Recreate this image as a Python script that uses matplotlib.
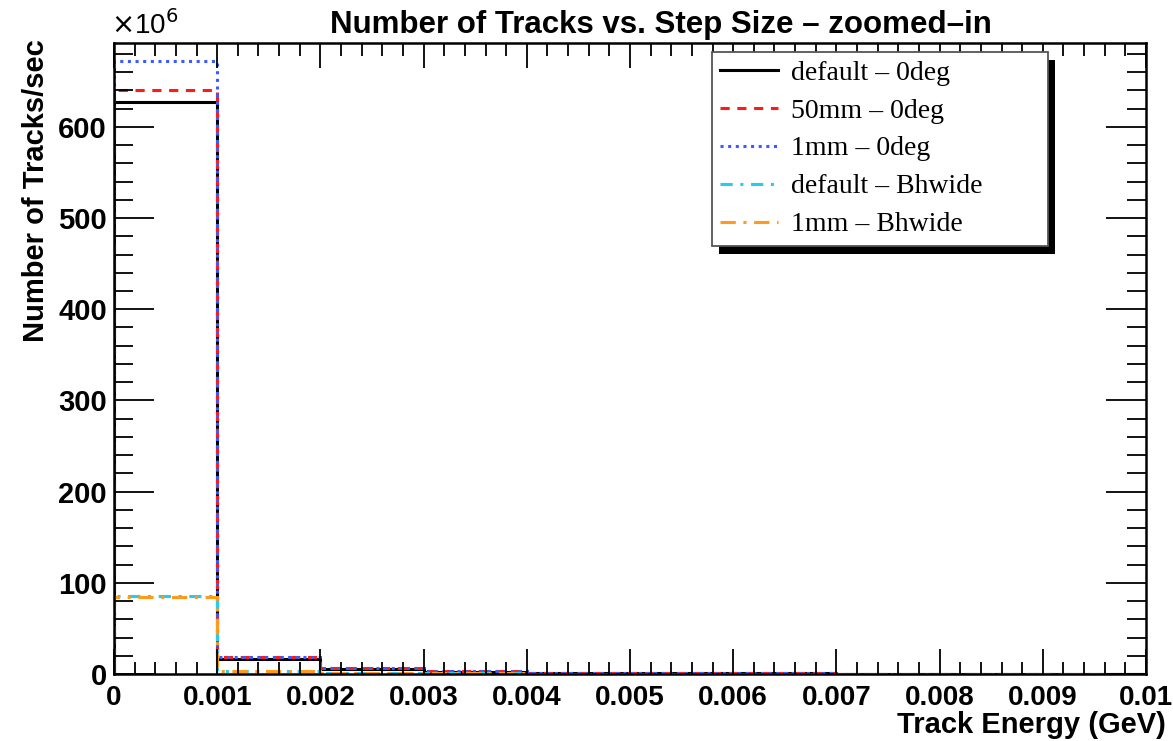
import numpy as np
import matplotlib
matplotlib.use("Agg")
import matplotlib.pyplot as plt
from matplotlib.ticker import MultipleLocator, FixedFormatter, FixedLocator
from matplotlib.patches import Rectangle

# bin edges (GeV)
edges = np.linspace(0.0, 0.01, 11)

# tracks/sec in units of 1e6, one value per bin
default_0deg = [627, 17.0, 6.0, 2.6, 1.5, 1.0, 0.7, 0.5, 0.4, 0.3]
mm50_0deg = [640, 18.3, 6.4, 2.8, 1.6, 1.0, 0.7, 0.5, 0.4, 0.3]
mm1_0deg = [672, 18.6, 6.5, 2.8, 1.6, 1.0, 0.7, 0.5, 0.4, 0.3]
default_bhwide = [85.5, 3.6, 1.3, 0.6, 0.4, 0.3, 0.2, 0.2, 0.1, 0.1]
mm1_bhwide = [84.5, 3.5, 1.2, 0.6, 0.4, 0.3, 0.2, 0.2, 0.1, 0.1]

labels = ['default \u2013 0deg', '50mm \u2013 0deg', '1mm \u2013 0deg',
          'default \u2013 Bhwide', '1mm \u2013 Bhwide']
xtick_vals = [0, 0.001, 0.002, 0.003, 0.004, 0.005, 0.006, 0.007, 0.008, 0.009, 0.01]
xtick_labels = ['0', '0.001', '0.002', '0.003', '0.004', '0.005', '0.006',
                '0.007', '0.008', '0.009', '0.01']

plt.rcParams['font.family'] = ['Liberation Sans', 'DejaVu Sans']

fig = plt.figure(figsize=(11.73, 7.41), dpi=100)
ax = fig.add_axes([0.0972, 0.0904, 0.8798, 0.8516])

lw = 2.2
ax.stairs(default_0deg, edges, color='black', lw=lw, label=labels[0])
ax.stairs(mm50_0deg, edges, color='#ff1a1a', lw=lw, linestyle=(0, (3, 2.5)), label=labels[1])
ax.stairs(mm1_0deg, edges, color='#3a5cff', lw=lw, linestyle=(0, (1, 1.5)), label=labels[2])
ax.stairs(default_bhwide, edges, color='#22ccf5', lw=lw, linestyle=(0, (4, 2.5, 1, 2.5)), label=labels[3])
ax.stairs(mm1_bhwide, edges, color='#ff9a1a', lw=lw, linestyle=(0, (5, 2.5, 1, 2.5)), label=labels[4])

ax.set_xlim(0, 0.01)
ax.set_ylim(0, 692)

ax.xaxis.set_major_locator(FixedLocator(xtick_vals))
ax.xaxis.set_major_formatter(FixedFormatter(xtick_labels))
ax.xaxis.set_minor_locator(MultipleLocator(0.0002))
ax.yaxis.set_major_locator(MultipleLocator(100))
ax.yaxis.set_minor_locator(MultipleLocator(20))

ax.tick_params(which='both', direction='in', top=True, right=True, width=1.3)
ax.tick_params(axis='x', which='major', length=18, labelsize=20, pad=8)
ax.tick_params(axis='x', which='minor', length=9)
ax.tick_params(axis='y', which='major', length=29, labelsize=21, pad=5)
ax.tick_params(axis='y', which='minor', length=14)
for lab in ax.get_xticklabels() + ax.get_yticklabels():
    lab.set_fontweight('bold')
for s in ax.spines.values():
    s.set_linewidth(1.8)

ax.set_title('Number of Tracks vs. Step Size \u2013 zoomed\u2013in',
             fontsize=22.5, fontweight='bold', pad=7, x=0.53)
fig.text(0.994, 0.011, 'Track Energy (GeV)', ha='right', va='baseline',
         fontsize=21, fontweight='bold')
fig.text(0.019, 0.947, 'Number of Tracks/sec', ha='left', va='top',
         rotation=90, fontsize=21, fontweight='bold')
fig.text(0.095, 0.946, r'$\times$10$^{6}$', ha='left', va='bottom', fontsize=20)

# legend with ROOT-style shadow
leg = ax.legend(loc='upper left', bbox_to_anchor=(0.579, 0.986, 0.3256, 0),
                mode='expand', frameon=True, fancybox=False,
                prop={'family': 'Liberation Serif', 'size': 20},
                handlelength=2.1, labelspacing=0.45, borderpad=0.3,
                handletextpad=0.45, borderaxespad=0)
leg.get_frame().set_edgecolor('#555555')
leg.get_frame().set_linewidth(1.3)
leg.get_frame().set_alpha(1)
fig.canvas.draw()
bb = leg.get_window_extent().transformed(fig.transFigure.inverted())
shadow = Rectangle((bb.x0 + 0.006, bb.y0 - 0.011), bb.width, bb.height,
                   transform=fig.transFigure, facecolor='black',
                   zorder=4.9, clip_on=False)
ax.add_artist(shadow)

fig.savefig('out.png', dpi=100)
